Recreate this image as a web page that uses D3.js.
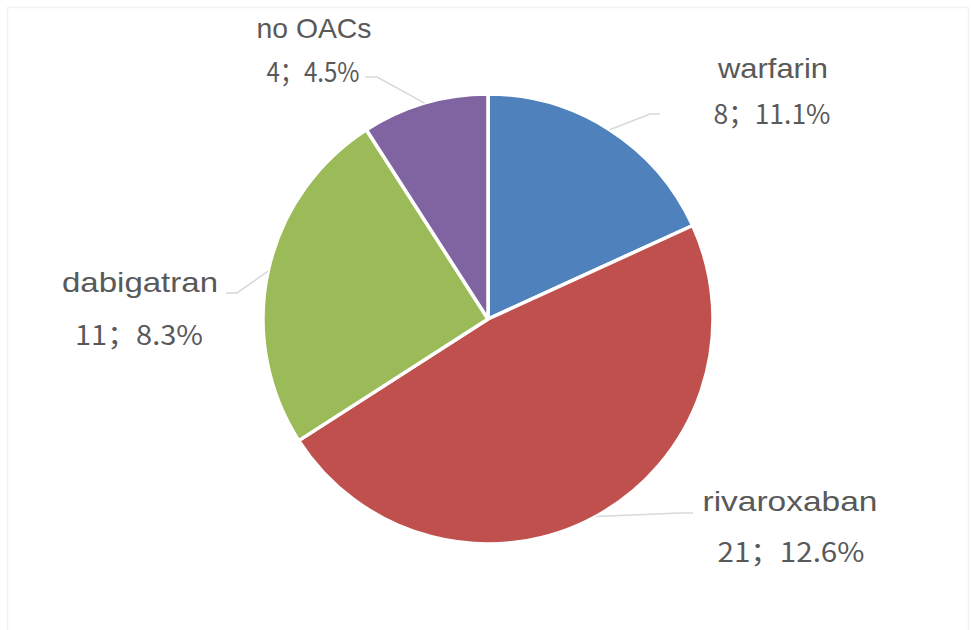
<!DOCTYPE html>
<html>
<head>
<meta charset="utf-8">
<script src="https://cdn.jsdelivr.net/npm/d3@7"></script>
<style>
html,body{margin:0;padding:0;background:#fff;}
svg{display:block;}
</style>
</head>
<body>
<svg id="chart" width="971" height="630"></svg>
<script>
// ---- data ----
const categories = ["warfarin", "rivaroxaban", "dabigatran", "no OACs"];
const counts = [8, 21, 11, 4];
const percents = ["11.1%", "12.6%", "8.3%", "4.5%"];
const colors = ["#4F81BD", "#C0504D", "#9BBB59", "#8064A2"];

// ---- layout (positions only) ----
const cx = 488, cy = 319, R = 225;
const labelLayout = [
  {name:[773,78],  nameW:110, value:[772,124], valueW:117, elbow:[650,114], end:[660,114]},
  {name:[790,511], nameW:175, value:[791,562], valueW:147, elbow:[680,513], end:[693,513]},
  {name:[140,292], nameW:156, value:[139,345], valueW:128, elbow:[237,293], end:[226,293]},
  {name:[314,38],  nameW:115, value:[313,82],  valueW:93,  elbow:[377,77],  end:[365,77]}
];

const svg = d3.select("#chart");

// faint frame
svg.append("rect").attr("x",7.5).attr("y",7.5).attr("width",961).attr("height",640)
  .attr("fill","none").attr("stroke","#f2f2f2").attr("stroke-width",1.5);

const pie = d3.pie().sort(null).value(d => d)(counts);
const arc = d3.arc().innerRadius(0).outerRadius(R);

const g = svg.append("g").attr("transform", `translate(${cx},${cy})`);
g.selectAll("path").data(pie).join("path")
  .attr("d", arc)
  .attr("fill", (d,i) => colors[i])
  .attr("stroke", "#fff")
  .attr("stroke-width", 3.5)
  .attr("stroke-linejoin", "round");

// leader lines
pie.forEach((d,i) => {
  const a = (d.startAngle + d.endAngle) / 2;
  const sx = cx + R * Math.sin(a), sy = cy - R * Math.cos(a);
  const L = labelLayout[i];
  svg.append("polyline")
    .attr("points", [[sx,sy], L.elbow, L.end].map(p => p.join(",")).join(" "))
    .attr("fill","none").attr("stroke","#d9d9d9").attr("stroke-width",1.6);
});

// labels
categories.forEach((c,i) => {
  const L = labelLayout[i];
  svg.append("text")
    .attr("x", L.name[0]).attr("y", L.name[1])
    .attr("text-anchor","middle")
    .attr("font-family","'Liberation Sans', Arial, sans-serif")
    .attr("font-size", 28)
    .attr("fill","#595959")
    .attr("textLength", L.nameW).attr("lengthAdjust","spacingAndGlyphs")
    .text(c);
  svg.append("text")
    .attr("x", L.value[0]).attr("y", L.value[1])
    .attr("text-anchor","middle")
    .attr("font-family","'Noto Sans CJK SC', 'Liberation Sans', sans-serif")
    .attr("font-weight", 400)
    .attr("font-size", 27)
    .attr("fill","#595959")
    .attr("textLength", L.valueW).attr("lengthAdjust","spacingAndGlyphs")
    .text(`${counts[i]}；${percents[i]}`);
});
</script>
</body>
</html>
